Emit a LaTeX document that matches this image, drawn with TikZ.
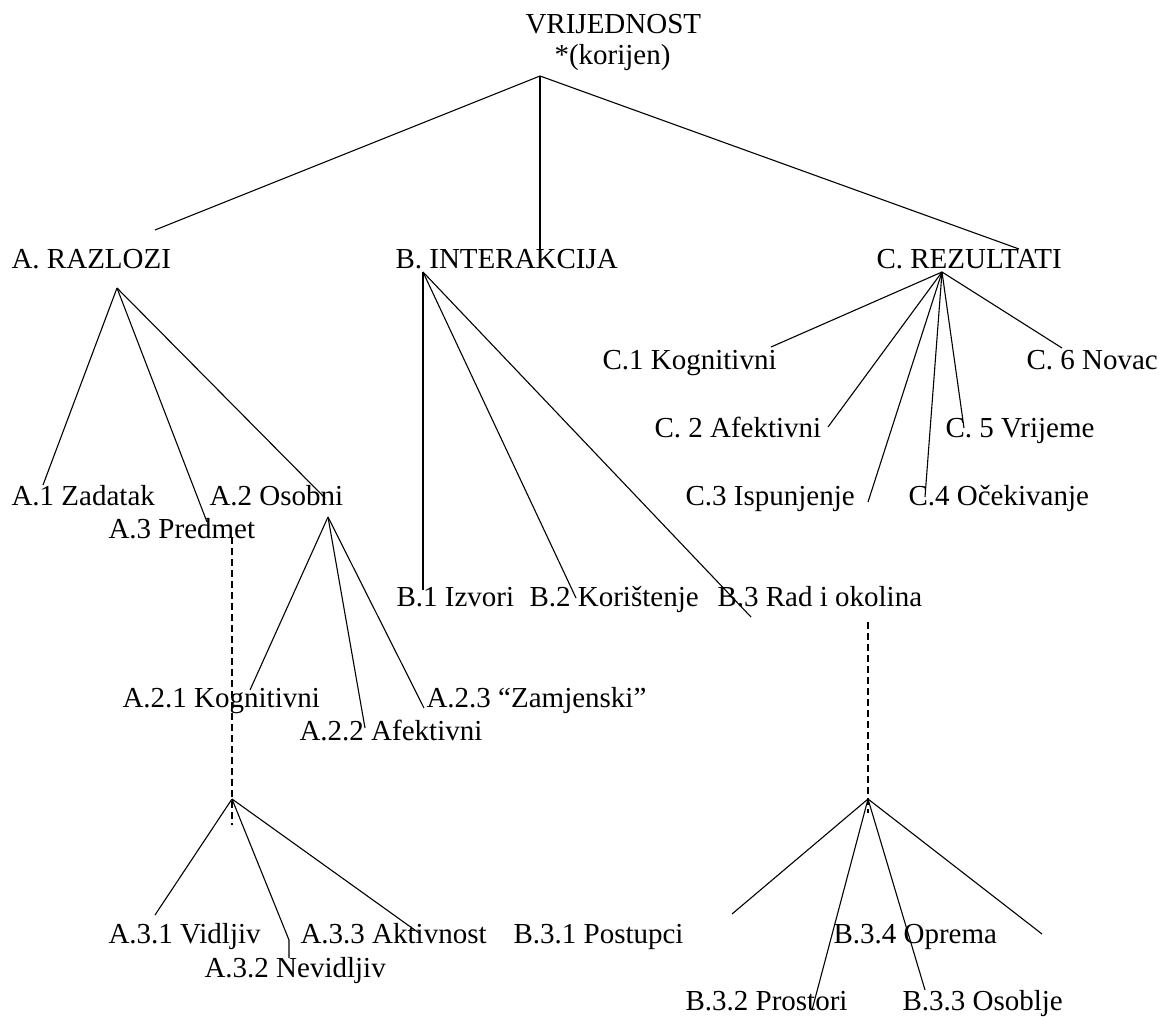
\documentclass[tikz,border=0pt]{standalone}
\usepackage{fontspec}
\setmainfont{Liberation Serif}
\begin{document}
\begin{tikzpicture}[x=1pt, y=-1pt, line width=1.1pt,
    lbl/.style={anchor=base west, inner sep=0pt, font=\fontsize{29}{34}\selectfont},
    crta/.style={dash pattern=on 7pt off 4pt}]
  \useasboundingbox (0,0) rectangle (1159,1017);

  % korijen
  \node[lbl] (vr)  at (525,33) {VRIJEDNOST};
  \node[lbl] (kor) at (554,64) {*(korijen)};
  \coordinate (v0) at (540,76);

  % prva razina
  \node[lbl] (a) at (11,268)  {A. RAZLOZI};
  \node[lbl] (b) at (395,268) {B. INTERAKCIJA};
  \node[lbl] (c) at (876,268) {C. REZULTATI};
  \coordinate (ka) at (155,230);
  \coordinate (kb) at (540,249);
  \coordinate (kc) at (1019,249);
  \draw (v0) -- (ka);
  \draw (v0) -- (kb);
  \draw (v0) -- (kc);

  % A. RAZLOZI
  \coordinate (va) at (117,288);
  \node[lbl] (a1) at (11,505)  {A.1 Zadatak};
  \node[lbl] (a2) at (209,505) {A.2 Osobni};
  \node[lbl] (a3) at (108,538) {A.3 Predmet};
  \coordinate (ka1) at (43,485);
  \coordinate (ka3) at (207,522);
  \coordinate (ka2) at (325,498);
  \draw (va) -- (ka1);
  \draw (va) -- (ka3);
  \draw (va) -- (ka2);

  % A.2 Osobni
  \coordinate (va2) at (328,517);
  \node[lbl] (a21) at (122,707) {A.2.1 Kognitivni};
  \node[lbl] (a22) at (299,740) {A.2.2 Afektivni};
  \node[lbl] (a23) at (426,707) {A.2.3 “Zamjenski”};
  \coordinate (ka21) at (250,690);
  \coordinate (ka22) at (365,728);
  \coordinate (ka23) at (424,708);
  \draw (va2) -- (ka21);
  \draw (va2) -- (ka22);
  \draw (va2) -- (ka23);

  % A.3 Predmet
  \coordinate (ta3) at (232,537);
  \coordinate (da3) at (232,825);
  \coordinate (va3) at (232,799);
  \draw[crta] (ta3) -- (da3);
  \node[lbl] (a31) at (108,943) {A.3.1 Vidljiv};
  \node[lbl] (a33) at (300,943) {A.3.3 Aktivnost};
  \node[lbl] (a32) at (204,977) {A.3.2 Nevidljiv};
  \coordinate (ka31) at (155,915);
  \coordinate (ka32) at (289,940);
  \coordinate (ta32) at (289,958);
  \coordinate (ka33) at (419,933);
  \draw (va3) -- (ka31);
  \draw (va3) -- (ka32) -- (ta32);
  \draw (va3) -- (ka33);

  % B. INTERAKCIJA
  \coordinate (vb) at (423,272);
  \node[lbl] (b1) at (396,606) {B.1 Izvori};
  \node[lbl] (b2) at (529,606) {B.2 Korištenje};
  \node[lbl] (b3) at (717,606) {B.3 Rad i okolina};
  \coordinate (kb1) at (423,590);
  \coordinate (kb2) at (576,598);
  \coordinate (kb3) at (751,617);
  \draw (vb) -- (kb1);
  \draw (vb) -- (kb2);
  \draw (vb) -- (kb3);

  % B.3 Rad i okolina
  \coordinate (tb3) at (868,622);
  \coordinate (db3) at (868,813);
  \coordinate (vb3) at (868,799);
  \draw[crta] (tb3) -- (db3);
  \node[lbl] (b31) at (513,943)  {B.3.1 Postupci};
  \node[lbl] (b34) at (833,943)  {B.3.4 Oprema};
  \node[lbl] (b32) at (685,1010) {B.3.2 Prostori};
  \node[lbl] (b33) at (902,1010) {B.3.3 Osoblje};
  \coordinate (kb31) at (732,914);
  \coordinate (kb32) at (812,1010);
  \coordinate (kb33) at (925,990);
  \coordinate (kb35) at (1042,934);
  \draw (vb3) -- (kb31);
  \draw (vb3) -- (kb32);
  \draw (vb3) -- (kb33);
  \draw (vb3) -- (kb35);

  % C. REZULTATI
  \coordinate (vc) at (942,272);
  \node[lbl] (c1) at (602,369)  {C.1 Kognitivni};
  \node[lbl] (c6) at (1026,369) {C. 6 Novac};
  \node[lbl] (c2) at (654,437)  {C. 2 Afektivni};
  \node[lbl] (c5) at (945,437)  {C. 5 Vrijeme};
  \node[lbl] (c3) at (685,505)  {C.3 Ispunjenje};
  \node[lbl] (c4) at (908,505)  {C.4 Očekivanje};
  \coordinate (kc1) at (771,347);
  \coordinate (kc2) at (828,427);
  \coordinate (kc3) at (868,502);
  \coordinate (kc4) at (925,497);
  \coordinate (kc5) at (964,428);
  \coordinate (kc6) at (1062,348);
  \foreach \k in {kc1,kc2,kc3,kc4,kc5,kc6}
    \draw (vc) -- (\k);
\end{tikzpicture}
\end{document}
